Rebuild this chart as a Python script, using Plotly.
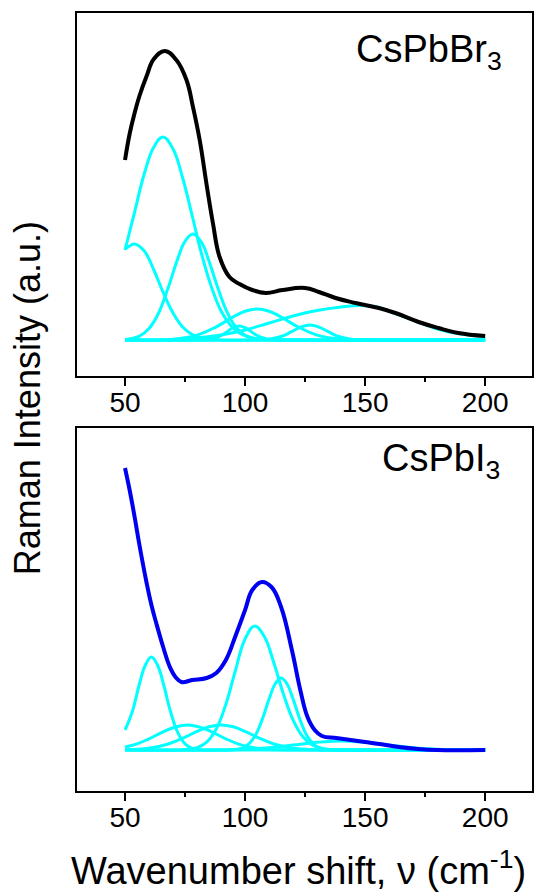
import plotly.graph_objects as go
from plotly.subplots import make_subplots

# ---------------- data ----------------
# CsPbBr3 measured spectrum
br_x = [50, 52, 54, 56, 59, 62, 66.6, 71.4, 75.6, 78.3, 81.1, 84, 86.6, 89.4, 93.5, 97.7,
        103, 108.7, 115.6, 125, 130.8, 137.7, 146, 155.7, 162.6, 172.3, 180.5, 188.8, 200]
br_y = [180, 207, 227, 244, 264, 281, 289, 280, 260, 233, 200, 155, 117, 83, 63, 56,
        50, 47, 50, 52, 48, 42, 37, 32, 27, 18, 12, 7, 4]

# CsPbBr3 fitted components
br_c1_x = [50, 52, 54, 58, 62, 66, 70, 74, 78, 82, 86, 90, 120, 200]
br_c1_y = [91, 94, 96, 89, 70, 47, 27, 13, 5.4, 1.9, 0.6, 0, 0, 0]
br_c2_x = [50, 54, 58, 62, 65.8, 70, 74, 78, 82, 86, 90, 94, 98, 102, 106, 112, 120, 200]
br_c2_y = [90, 128, 166, 193, 203, 191, 162, 124, 85, 53, 29, 14.6, 6.6, 2.7, 1, 0.2, 0, 0]
br_c3_x = [50, 56, 60, 64, 68, 72, 75, 78.3, 82, 85, 88, 92, 96, 100, 104, 108, 115, 200]
br_c3_y = [0.5, 3.9, 11.5, 27, 52.5, 81.5, 98.6, 106, 97, 78.7, 56.8, 30.6, 13.3, 4.7, 1.3, 0.3, 0, 0]
br_c4_x = [50, 70, 80, 88, 95, 100, 105, 110, 115, 122, 130, 140, 150, 200]
br_c4_y = [0, 0.8, 4.9, 13.2, 23, 28.8, 31, 28.8, 23, 13.2, 4.9, 0.8, 0, 0]
br_c5_x = [50, 80, 85, 89, 92, 95, 97.5, 100, 103, 106, 110, 115, 200]
br_c5_y = [0, 0, 0.6, 3.3, 7.6, 12.3, 14, 12.3, 7.6, 3.3, 0.6, 0, 0]
br_c6_x = [50, 100, 110, 115, 119, 123, 127, 131, 135, 139, 144, 150, 200]
br_c6_y = [0, 0, 0.8, 3.5, 7.8, 12.7, 15, 12.7, 7.8, 3.5, 0.8, 0, 0]
br_c7_x = [50, 70, 80, 90, 100, 110, 120, 130, 140, 148, 155, 162, 172, 180, 190, 200]
br_c7_y = [0, 0.5, 2, 5, 10, 17, 24, 29.5, 33, 34.5, 33, 27, 18, 11, 6, 3.5]

# CsPbI3 measured spectrum
i_x = [50, 52, 54, 56, 59, 61, 63, 66, 68.5, 71, 73.5, 78, 84, 88, 92, 96, 100, 103, 107,
       111, 115, 119.5, 123, 126, 129, 132, 138, 144, 150, 156, 164, 172, 180, 200]
i_y = [282, 259, 233, 205, 167, 145, 127, 102, 84, 73, 68, 70, 72, 77, 90, 114, 140, 160, 168,
       163, 143, 100, 60, 33, 20, 14, 12, 10, 8, 6, 3, 1, 0, 0]

# CsPbI3 fitted components
i_c1_x = [50, 53, 56, 58.5, 61, 63.5, 66, 69, 72, 75, 78, 82, 86, 120, 200]
i_c1_y = [20, 38, 66, 85, 93, 85, 66, 38, 17.3, 6.1, 1.7, 0.2, 0, 0, 0]
i_c2_x = [50, 70, 75, 80, 84, 88, 92, 96, 100, 104, 108, 112, 116, 120, 124, 128, 133, 140, 200]
i_c2_y = [0, 0, 0.4, 2.3, 7.8, 21, 45.8, 79.6, 111, 124, 113.5, 87, 55.8, 30, 13.5, 5.1, 1.2, 0, 0]
i_c3_x = [50, 90, 95, 100, 104, 107, 110, 112.5, 115, 117.5, 120, 123, 126, 130, 135, 145, 200]
i_c3_y = [0, 0, 0.3, 3.2, 13.4, 29.6, 50.9, 66, 72, 66, 50.9, 29.6, 13.4, 3.2, 0.3, 0, 0]
i_c4_x = [50, 55, 60, 65, 70, 76, 82, 87, 92, 97, 102, 108, 115, 125, 200]
i_c4_y = [3, 6.2, 11.2, 17.1, 22.3, 25, 22.3, 17.1, 11.2, 6.2, 3, 1, 0.2, 0, 0]
i_c5_x = [50, 60, 68, 75, 80, 85, 90, 95, 100, 105, 112, 120, 130, 140, 200]
i_c5_y = [0.2, 1.7, 6, 12.8, 18.6, 23.2, 25, 23.2, 18.6, 12.8, 6, 1.7, 0.2, 0, 0]
i_c6_x = [50, 90, 100, 110, 120, 130, 140, 150, 160, 170, 180, 190, 200]
i_c6_y = [0, 0, 0.8, 2.2, 4.9, 7.7, 9, 7.7, 4.9, 2.2, 0.8, 0.2, 0]

x_ticks = [50, 100, 150, 200]
labels = ["CsPbBr<sub>3</sub>", "CsPbI<sub>3</sub>"]

# ---------------- figure ----------------
FONT = "Liberation Sans, Arial, sans-serif"
CYAN = "#00ffff"

fig = make_subplots(rows=2, cols=1, vertical_spacing=0.0)

def add_line(x, y, row, color, width):
    fig.add_trace(go.Scatter(x=x, y=y, mode="lines",
                             line=dict(color=color, width=width, shape="spline", smoothing=1.2),
                             showlegend=False, hoverinfo="skip"), row=row, col=1)

for cx, cy in [(br_c1_x, br_c1_y), (br_c2_x, br_c2_y), (br_c3_x, br_c3_y), (br_c4_x, br_c4_y),
               (br_c5_x, br_c5_y), (br_c6_x, br_c6_y), (br_c7_x, br_c7_y)]:
    add_line(cx, cy, 1, CYAN, 3)
add_line(br_x, br_y, 1, "#000000", 4)

for cx, cy in [(i_c1_x, i_c1_y), (i_c2_x, i_c2_y), (i_c3_x, i_c3_y), (i_c4_x, i_c4_y),
               (i_c5_x, i_c5_y), (i_c6_x, i_c6_y)]:
    add_line(cx, cy, 2, CYAN, 3)
add_line(i_x, i_y, 2, "#0000f0", 4)

H = 896
top_m, bot_m = 13, 105
ph = H - top_m - bot_m
def py(px):
    return (H - bot_m - px) / ph

xaxis_common = dict(range=[30, 219.5], showline=True, mirror=True, linecolor="black", linewidth=1.6,
                    ticks="outside", ticklen=8, tickwidth=1.6, tickcolor="black",
                    tickvals=x_ticks, showgrid=False, zeroline=False, ticklabelstandoff=-7,
                    tickfont=dict(family=FONT, size=28, color="black"),
                    minor=dict(ticks="outside", ticklen=4, tickwidth=1.6, tickcolor="black",
                               dtick=25, tick0=0, showgrid=False))
yaxis_common = dict(showline=True, mirror=True, linecolor="black", linewidth=1.6,
                    ticks="", showticklabels=False, showgrid=False, zeroline=False)

fig.update_layout(
    width=542, height=H,
    margin=dict(l=77, r=8, t=top_m, b=bot_m),
    paper_bgcolor="white", plot_bgcolor="white",
    xaxis=dict(**xaxis_common, domain=[0, 1], anchor="y"),
    xaxis2=dict(**xaxis_common, domain=[0, 1], anchor="y2"),
    yaxis=dict(**yaxis_common, range=[-36, 327], domain=[py(376), py(13)], anchor="x"),
    yaxis2=dict(**yaxis_common, range=[-41, 322], domain=[py(791), py(428)], anchor="x2"),
)

fig.add_annotation(text=labels[0], xref="x domain", yref="y domain", x=0.608, y=0.893,
                   xanchor="left", yanchor="middle", showarrow=False,
                   font=dict(family=FONT, size=38, color="black"))
fig.add_annotation(text=labels[1], xref="x2 domain", yref="y2 domain", x=0.665, y=0.91,
                   xanchor="left", yanchor="middle", showarrow=False,
                   font=dict(family=FONT, size=38, color="black"))

fig.add_annotation(text="Raman Intensity (a.u.)", xref="paper", yref="paper",
                   x=(28 - 77) / 457, y=py(398), xanchor="center", yanchor="middle",
                   textangle=-90, showarrow=False, font=dict(family=FONT, size=36, color="black"))
fig.add_annotation(text="Wavenumber shift, ν (cm<sup>-1</sup>)", xref="paper", yref="paper",
                   x=(299 - 77) / 457, y=py(868), xanchor="center", yanchor="middle",
                   showarrow=False, font=dict(family=FONT, size=38, color="black"))

fig.write_html("out.html")
